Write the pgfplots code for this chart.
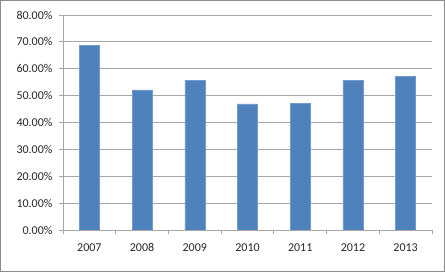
\documentclass[border=0pt]{standalone}
\usepackage{fontspec}
\setmainfont{Carlito}
\usepackage{pgfplots}
\pgfplotsset{compat=1.18}
\definecolor{barblue}{HTML}{4F81BD}
\definecolor{gridgray}{HTML}{A6A6A6}
\definecolor{framegray}{HTML}{8C8C8C}
\begin{document}
\begin{tikzpicture}
\useasboundingbox (-63bp,-42bp) rectangle (382bp,230bp);
\draw[framegray, line width=1bp] (-62bp,-41bp) rectangle (381bp,229bp);
\begin{axis}[
  at={(0,0)}, anchor=south west,
  scale only axis,
  width=369bp, height=215bp,
  xmin=-0.5, xmax=6.5, ymin=0, ymax=80,
  axis x line*=bottom, axis y line*=left,
  axis line style={gridgray, line width=0.8bp},
  xtick={0,...,6},
  xticklabels={2007,2008,2009,2010,2011,2012,2013},
  major x tick style={draw=none},
  minor xtick={-0.5,0.5,...,6.5},
  minor x tick style={gridgray, line width=0.8bp},
  minor tick length=4bp,
  ytick={0,10,...,80},
  major tick length=4bp,
  ytick style={gridgray, line width=0.8bp},
  tick align=outside,
  ymajorgrids,
  grid style={gridgray, line width=0.8bp},
  yticklabel={\pgfmathprintnumber[fixed,fixed zerofill,precision=2]{\tick}\%},
  /pgf/number format/assume math mode=true,
  ticklabel style={font=\fontsize{12bp}{14bp}\selectfont, text=black!85},
  yticklabel style={xshift=-3bp},
  xticklabel style={yshift=-6bp},
  ybar, bar width=20bp,
  axis on top=false,
]
\addplot[fill=barblue, draw=barblue!80!white, line width=0.5bp] coordinates {
  (0,68.6) (1,52.1) (2,55.7) (3,46.9) (4,47.1) (5,55.7) (6,57.2)
};
\end{axis}
\end{tikzpicture}
\end{document}
